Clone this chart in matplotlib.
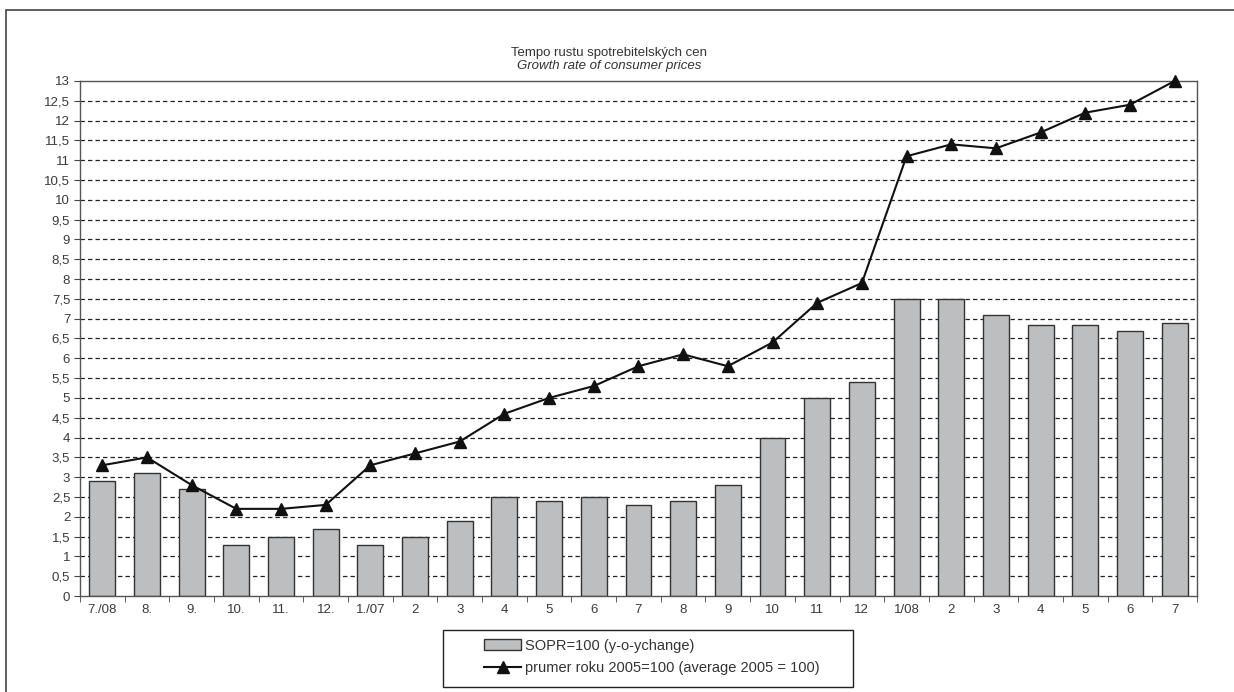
import matplotlib
matplotlib.use('Agg')
import matplotlib.pyplot as plt
from matplotlib.patches import Rectangle

plt.rcParams['font.family'] = ['Liberation Sans', 'DejaVu Sans']

labels = ['7./08', '8.', '9.', '10.', '11.', '12.', '1./07', '2', '3', '4', '5', '6',
          '7', '8', '9', '10', '11', '12', '1/08', '2', '3', '4', '5', '6', '7']
yoy = [2.9, 3.1, 2.7, 1.3, 1.5, 1.7, 1.3, 1.5, 1.9, 2.5, 2.4, 2.5,
       2.3, 2.4, 2.8, 4.0, 5.0, 5.4, 7.5, 7.5, 7.1, 6.85, 6.85, 6.7, 6.9]
avg2005 = [3.3, 3.5, 2.8, 2.2, 2.2, 2.3, 3.3, 3.6, 3.9, 4.6, 5.0, 5.3,
           5.8, 6.1, 5.8, 6.4, 7.4, 7.9, 11.1, 11.4, 11.3, 11.7, 12.2, 12.4, 13.0]
yticks = [i * 0.5 for i in range(27)]

W, H = 1234, 692
fig = plt.figure(figsize=(12.34, 6.92), dpi=100)
ax = fig.add_axes([0.0648, 0.1387, 0.9052, 0.7443])

# outer frame (runs off right and bottom edges like the scan)
fig.patches.append(Rectangle((6 / W, -0.05), 1.2, 1 - 10 / H + 0.05,
                             transform=fig.transFigure, fill=False,
                             edgecolor='#444444', linewidth=1.2))

x = list(range(len(labels)))
bars = ax.bar(x, yoy, width=0.58, color='#bdbec0', edgecolor='#333333', linewidth=1.0,
              zorder=2, label='SOPR=100 (y-o-ychange)')
line, = ax.plot(x, avg2005, color='#111111', linewidth=1.5, marker='^', markersize=8,
                zorder=3, clip_on=False, label='prumer roku 2005=100 (average 2005 = 100)')

ax.set_xlim(-0.5, len(labels) - 0.5)
ax.set_ylim(0, 13)
ax.set_yticks(yticks)
ax.set_yticklabels([('%g' % v).replace('.', ',') for v in yticks], fontsize=9.5, color='#3a3a3a')
ax.set_xticks(x)
ax.set_xticklabels(labels, fontsize=9.5, color='#3a3a3a')
ax.set_xticks([i + 0.5 for i in range(-1, len(labels))], minor=True)
ax.tick_params(axis='x', which='major', length=0, pad=6)
ax.tick_params(axis='x', which='minor', length=4, direction='out', color='#444444')
ax.tick_params(axis='y', length=4, direction='out', color='#444444', pad=3)

for v in yticks[1:-1]:
    ax.axhline(v, color='#222222', linestyle=(0, (3.5, 2.5)), linewidth=0.9, zorder=1)

for s in ax.spines.values():
    s.set_color('#555555')
    s.set_linewidth(1.0)

fig.text(0.4935, 0.923, 'Tempo rustu spotrebitelských cen', ha='center', va='center',
         fontsize=9.5, color='#333333')
fig.text(0.4935, 0.905, 'Growth rate of consumer prices', ha='center', va='center',
         fontsize=9.5, style='italic', color='#333333')

# legend without its own frame, box drawn separately to match the wide scan box
leg = fig.legend([bars, line], [bars.get_label(), line.get_label()],
                 loc='center', bbox_to_anchor=(652 / W, 1 - 657 / H), fontsize=10.5,
                 frameon=False, borderpad=0, labelspacing=0.6,
                 handlelength=2.5, handletextpad=0.3, borderaxespad=0)
for t in leg.get_texts():
    t.set_color('#333333')
fig.patches.append(Rectangle((443 / W, 1 - 687 / H), 410 / W, 57 / H,
                             transform=fig.transFigure, fill=False,
                             edgecolor='#222222', linewidth=1.0))

fig.savefig('out.png', dpi=100)
